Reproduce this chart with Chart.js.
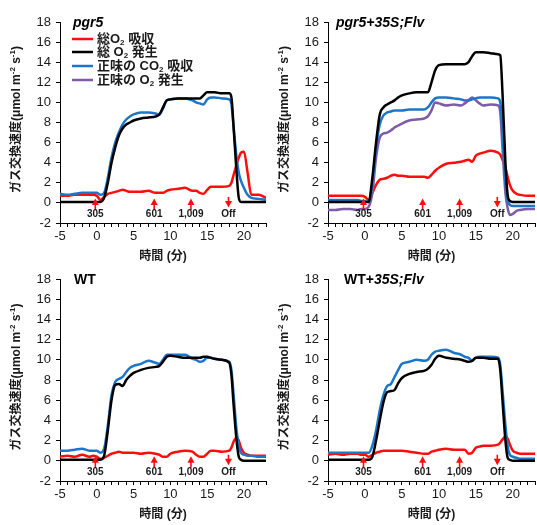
<!DOCTYPE html>
<html>
<head>
<meta charset="utf-8">
<script src="https://cdn.jsdelivr.net/npm/chart.js@4/dist/chart.umd.min.js"></script>
<style>
    html, body { margin: 0; padding: 0; background: #fff; }
    #wrap { position: relative; width: 537px; height: 525px; overflow: hidden; }
    .panel { position: absolute; }
</style>
</head>
<body>
<div id="wrap">
    <div class="panel" style="left:0;top:0;width:268px;height:265px"><canvas id="c1"></canvas></div>
    <div class="panel" style="left:268px;top:0;width:269px;height:265px"><canvas id="c2"></canvas></div>
    <div class="panel" style="left:0;top:257px;width:268px;height:268px"><canvas id="c3"></canvas></div>
    <div class="panel" style="left:268px;top:257px;width:269px;height:268px"><canvas id="c4"></canvas></div>
</div>
<script>
// Time axis (min) shared by every panel
const TIME = [-5,-4,-3,-2,-1, -0.5,0,0.5, 1,1.5,2,2.5,3,3.5,4,4.5, 5,6,7,8, 8.5,9,9.5,10, 11,12,13,13.5, 14,14.5,15,15.5, 16,17,18, 18.3,18.6,19,19.3,19.6, 20,20.5,21,22,23];

// pgr5
const pgr5Red   = [0.7,0.7,0.8,0.8,0.8, 0.8,0.7,0.3, 0.6,0.9,1.0,1.1,1.2,1.3,1.2,1.1, 1.1,1.1,1.2,1.0, 1.0,1.0,1.2,1.3, 1.4,1.5,1.2,1.2, 1.0,0.9,1.3,1.6, 1.6,1.6,1.7, 2.0,2.8,3.8,4.5,5.0, 5.1,3.0,0.8,0.8,0.5];
const pgr5Black = [0.1,0.1,0.1,0.1,0.1, 0.1,0.1,0.1, 0.5,2.0,4.0,5.5,6.7,7.4,7.8,8.0, 8.2,8.4,8.5,8.6, 8.8,9.5,10.2,10.3, 10.4,10.4,10.4,10.4, 10.4,10.7,11.0,11.0, 11.0,10.9,10.9, 10.5,7.5,3.0,0.5,0.1, 0.1,0.1,0.1,0.1,0.1];
const pgr5Blue  = [0.9,0.8,0.9,1.0,1.0, 1.0,1.0,0.8, 1.0,2.5,4.5,6.0,7.0,7.8,8.3,8.6, 8.8,9.0,9.0,8.9, 8.8,9.4,10.2,10.3, 10.4,10.4,10.2,10.0, 9.9,9.8,10.3,10.5, 10.5,10.4,10.3, 9.8,7.5,4.5,3.0,2.2, 1.5,0.8,0.5,0.4,0.3];

// pgr5+35S;Flv
const flvRed    = [0.7,0.7,0.7,0.7,0.7, 0.7,0.6,0.3, 1.0,1.8,2.3,2.4,2.5,2.7,2.8,2.7, 2.7,2.6,2.6,2.6, 2.5,2.8,3.2,3.5, 3.9,4.0,4.1,4.2, 4.3,4.1,4.7,4.9, 5.0,5.2,5.0, 4.8,4.3,3.5,2.6,1.8, 1.2,0.9,0.8,0.7,0.7];
const flvBlack  = [0.1,0.1,0.1,0.1,0.1, 0.1,0.1,0.1, 2.5,6.0,8.8,9.5,9.8,10.0,10.2,10.5, 10.7,10.9,11.0,11.0, 11.0,12.0,13.2,13.7, 13.8,13.8,13.8,13.8, 14.0,14.6,15.0,15.0, 15.0,14.9,14.8, 14.7,11.0,4.0,0.8,0.2, 0.1,0.1,0.1,0.1,0.1];
const flvBlue   = [0.3,0.3,0.3,0.3,0.3, 0.2,0.2,0.1, 2.0,5.5,7.8,8.7,9.0,9.1,9.2,9.2, 9.2,9.3,9.3,9.3, 9.5,10.0,10.4,10.5, 10.5,10.4,10.3,10.2, 10.2,10.3,10.4,10.5, 10.5,10.5,10.4, 10.0,7.0,2.0,0.3,-0.2, -0.3,-0.3,-0.3,-0.3,-0.3];
const flvPurple = [-0.7,-0.7,-0.6,-0.6,-0.7, -0.6,-0.6,-0.4, 1.0,4.5,6.5,6.9,7.0,7.2,7.5,7.7, 7.9,8.2,8.3,8.4, 8.6,9.2,10.0,9.9, 9.7,9.8,9.7,9.9, 10.2,10.5,10.2,9.9, 9.7,9.8,9.7, 9.0,5.5,1.0,-0.5,-1.2, -1.1,-0.8,-0.7,-0.6,-0.6];

// WT
const wtRed     = [0.4,0.5,0.4,0.6,0.4, 0.5,0.4,0.2, 0.3,0.5,0.7,0.8,0.9,0.8,0.8,0.8, 0.8,0.7,0.8,0.7, 0.6,0.4,0.4,0.7, 0.9,1.0,0.9,0.6, 0.4,0.4,0.7,1.0, 1.0,0.9,1.0, 1.3,1.9,2.3,2.0,1.3, 0.8,0.6,0.5,0.5,0.5];
const wtBlack   = [0.1,0.1,0.1,0.1,0.1, 0.1,0.1,0.1, 0.5,3.0,6.0,7.5,7.6,7.4,8.0,8.4, 8.7,9.0,9.2,9.3, 9.4,9.8,10.3,10.4, 10.3,10.2,10.2,10.2, 10.2,10.3,10.3,10.2, 10.1,10.0,9.7, 8.5,5.5,2.0,0.4,0.1, 0.0,0.0,0.0,0.0,0.0];
const wtBlue    = [1.0,1.0,1.1,1.2,1.0, 1.0,1.0,0.8, 1.2,3.5,6.5,7.8,8.1,8.3,8.8,9.2, 9.4,9.6,9.9,9.7, 9.6,10.0,10.5,10.5, 10.5,10.5,10.1,10.0, 9.8,9.9,10.2,10.2, 10.1,10.0,9.8, 9.0,6.5,3.0,1.5,0.8, 0.6,0.5,0.5,0.4,0.4];

// WT+35S;Flv
const wtFlvRed   = [0.6,0.7,0.6,0.7,0.7, 0.6,0.6,0.4, 0.6,0.8,0.9,1.0,1.0,1.0,1.0,1.0, 1.0,0.9,0.8,0.7, 0.7,0.9,1.0,1.1, 1.2,1.1,1.1,1.1, 0.7,0.8,1.3,1.4, 1.5,1.5,1.6, 1.8,2.1,2.4,2.2,1.6, 1.0,0.8,0.7,0.7,0.7];
const wtFlvBlack = [0.1,0.1,0.1,0.1,0.1, 0.1,0.1,0.1, 0.4,2.0,4.0,5.8,6.8,6.9,7.0,7.7, 8.2,8.6,8.8,8.9, 9.1,9.5,10.1,10.4, 10.2,10.1,10.0,9.9, 9.8,9.9,10.2,10.2, 10.2,10.1,10.1, 9.0,6.0,2.0,0.3,0.1, 0.0,0.0,0.0,0.0,0.0];
const wtFlvBlue  = [0.8,0.8,0.8,0.8,0.8, 0.8,0.8,0.8, 1.5,3.0,5.0,6.5,7.4,7.6,8.3,9.0, 9.6,9.8,10.0,9.9, 10.0,10.5,10.8,10.9, 11.0,10.7,10.5,10.3, 10.2,9.9,10.2,10.3, 10.3,10.3,10.2, 9.5,7.0,3.5,1.5,0.6, 0.4,0.3,0.2,0.2,0.2];

// Light intensity markers
const ARROW_X = [-0.2, 7.8, 12.8, 17.9];
const ARROW_LABELS = ['305', '601', '1,009', 'Off'];
const ARROW_DIR = ['up', 'up', 'up', 'down'];

// Legend entries: [before, subscript, after]
const LEGEND_LABELS = [
    ['総O', '2', ' 吸収'],
    ['総 O', '2', ' 発生'],
    ['正味の CO', '2', ' 吸収'],
    ['正味の O', '2', ' 発生']
];

const RED = '#ff0d0d';
const BLACK = '#000000';
const BLUE = '#1b75c9';
const PURPLE = '#7d5ba8';
const LEGEND_COLORS = [RED, BLACK, BLUE, PURPLE];

const FONT = '"Liberation Sans", Arial, "Noto Sans CJK JP", sans-serif';
const CJK = '"Liberation Sans", "Noto Sans CJK JP", sans-serif';

Chart.defaults.font.family = FONT;
Chart.defaults.color = '#1a1a1a';

function toPoints(values) {
    return TIME.map(function(t, i) { return { x: t, y: values[i] }; });
}

function line(values, color) {
    return {
        data: toPoints(values),
        borderColor: color,
        backgroundColor: color,
        borderWidth: 2.5,
        pointRadius: 0,
        cubicInterpolationMode: 'monotone',
        fill: false
    };
}

// Draw text pieces one after another; each piece has its own font and vertical shift
function drawRuns(ctx, runs, x, y) {
    let cx = x;
    runs.forEach(function(r) {
        ctx.font = r.font;
        ctx.fillText(r.text, cx, y + (r.dy || 0));
        cx += ctx.measureText(r.text).width;
    });
    return cx;
}

function runsWidth(ctx, runs) {
    let w = 0;
    runs.forEach(function(r) {
        ctx.font = r.font;
        w += ctx.measureText(r.text).width;
    });
    return w;
}

const overlayPlugin = {
    id: 'overlay',
    afterDraw: function(chart, args, opts) {
        const ctx = chart.ctx;
        const area = chart.chartArea;
        const xs = chart.scales.x;
        const ys = chart.scales.y;
        ctx.save();

        // arrows + labels
        ARROW_X.forEach(function(ax, i) {
            const px = xs.getPixelForValue(ax);
            ctx.fillStyle = RED;
            ctx.strokeStyle = RED;
            ctx.lineWidth = 1.6;
            if (ARROW_DIR[i] === 'up') {
                const tip = ys.getPixelForValue(0.45);
                const base = ys.getPixelForValue(-0.7);
                ctx.beginPath();
                ctx.moveTo(px, tip + 5);
                ctx.lineTo(px, base);
                ctx.stroke();
                ctx.beginPath();
                ctx.moveTo(px, tip);
                ctx.lineTo(px - 3.5, tip + 6.5);
                ctx.lineTo(px + 3.5, tip + 6.5);
                ctx.closePath();
                ctx.fill();
            } else {
                const top = ys.getPixelForValue(0.6);
                const tip = ys.getPixelForValue(-0.45);
                ctx.beginPath();
                ctx.moveTo(px, top);
                ctx.lineTo(px, tip - 5);
                ctx.stroke();
                ctx.beginPath();
                ctx.moveTo(px, tip);
                ctx.lineTo(px - 3.5, tip - 6.5);
                ctx.lineTo(px + 3.5, tip - 6.5);
                ctx.closePath();
                ctx.fill();
            }
            ctx.fillStyle = '#1a1a1a';
            ctx.font = 'bold 10px ' + FONT;
            ctx.textAlign = 'center';
            ctx.textBaseline = 'middle';
            ctx.fillText(ARROW_LABELS[i], px, ys.getPixelForValue(-1.15));
        });

        // panel title
        ctx.textAlign = 'left';
        ctx.textBaseline = 'middle';
        ctx.fillStyle = '#000';
        const titleRuns = opts.title.map(function(t) {
            return { text: t.text, font: (t.italic ? 'italic ' : '') + 'bold 14px ' + FONT };
        });
        drawRuns(ctx, titleRuns, area.left + opts.titleOffset, area.top + 1);

        // legend (first panel only)
        if (opts.legend) {
            const rowY = [39, 52, 66, 80];
            LEGEND_LABELS.forEach(function(lab, i) {
                const y = rowY[i];
                ctx.strokeStyle = LEGEND_COLORS[i];
                ctx.lineWidth = 2.5;
                ctx.beginPath();
                ctx.moveTo(72, y);
                ctx.lineTo(93, y);
                ctx.stroke();
                ctx.fillStyle = '#1a1a1a';
                drawRuns(ctx, [
                    { text: lab[0], font: 'bold 13px ' + CJK },
                    { text: lab[1], font: 'bold 8px ' + FONT, dy: 4 },
                    { text: lab[2], font: 'bold 13px ' + CJK }
                ], 97, y);
            });
        }

        // y axis title (rotated, with superscripts)
        const yRuns = [
            { text: 'ガス交換速度(μmol m', font: 'bold 12px ' + CJK },
            { text: '-2', font: 'bold 8px ' + FONT, dy: -4 },
            { text: ' s', font: 'bold 12px ' + CJK },
            { text: '-1', font: 'bold 8px ' + FONT, dy: -4 },
            { text: ')', font: 'bold 12px ' + CJK }
        ];
        ctx.fillStyle = '#1a1a1a';
        ctx.save();
        ctx.translate(17, (area.top + area.bottom) / 2 - 3);
        ctx.rotate(-Math.PI / 2);
        drawRuns(ctx, yRuns, -runsWidth(ctx, yRuns) / 2, 0);
        ctx.restore();

        // x axis title
        ctx.font = 'bold 12px ' + CJK;
        ctx.textAlign = 'center';
        ctx.fillText('時間 (分)', (area.left + area.right) / 2, area.bottom + 34);

        ctx.restore();
    }
};

function buildChart(canvasId, datasets, title, titleOffset, legend, xAxisHeight) {
    const ctx = document.getElementById(canvasId);
    return new Chart(ctx, {
        type: 'line',
        data: { datasets: datasets },
        options: {
            responsive: true,
            maintainAspectRatio: false,
            animation: false,
            layout: { padding: { top: 22, right: 0, left: 0, bottom: 0 } },
            scales: {
                x: {
                    type: 'linear',
                    min: -5,
                    max: 23,
                    afterFit: function(scale) { scale.height = xAxisHeight; },
                    ticks: {
                        stepSize: 1,
                        autoSkip: false,
                        maxRotation: 0,
                        padding: 2,
                        font: { size: 13 },
                        callback: function(v) { return v % 5 === 0 ? String(v) : ''; }
                    },
                    grid: { drawOnChartArea: false, drawTicks: true, tickLength: 4, color: '#000' },
                    border: { color: '#000', width: 1 }
                },
                y: {
                    min: -2,
                    max: 18,
                    afterFit: function(scale) { scale.width = 60; },
                    ticks: { stepSize: 2, padding: 5, font: { size: 13 } },
                    grid: { drawOnChartArea: false, drawTicks: true, tickLength: 4, color: '#000' },
                    border: { color: '#000', width: 1 }
                }
            },
            plugins: {
                legend: { display: false },
                tooltip: { enabled: false },
                overlay: { title: title, titleOffset: titleOffset, legend: legend }
            }
        },
        plugins: [overlayPlugin]
    });
}

document.addEventListener('DOMContentLoaded', function() {
    buildChart('c1',
        [line(pgr5Black, BLACK), line(pgr5Blue, BLUE), line(pgr5Red, RED)],
        [{ text: 'pgr5', italic: true }], 13, true, 42);

    buildChart('c2',
        [line(flvBlack, BLACK), line(flvBlue, BLUE), line(flvPurple, PURPLE), line(flvRed, RED)],
        [{ text: 'pgr5+35S;Flv', italic: true }], 8, false, 42);

    buildChart('c3',
        [line(wtBlack, BLACK), line(wtBlue, BLUE), line(wtRed, RED)],
        [{ text: 'WT' }], 14, false, 44);

    buildChart('c4',
        [line(wtFlvBlack, BLACK), line(wtFlvBlue, BLUE), line(wtFlvRed, RED)],
        [{ text: 'WT+' }, { text: '35S;Flv', italic: true }], 16, false, 44);
});
</script>
</body>
</html>
